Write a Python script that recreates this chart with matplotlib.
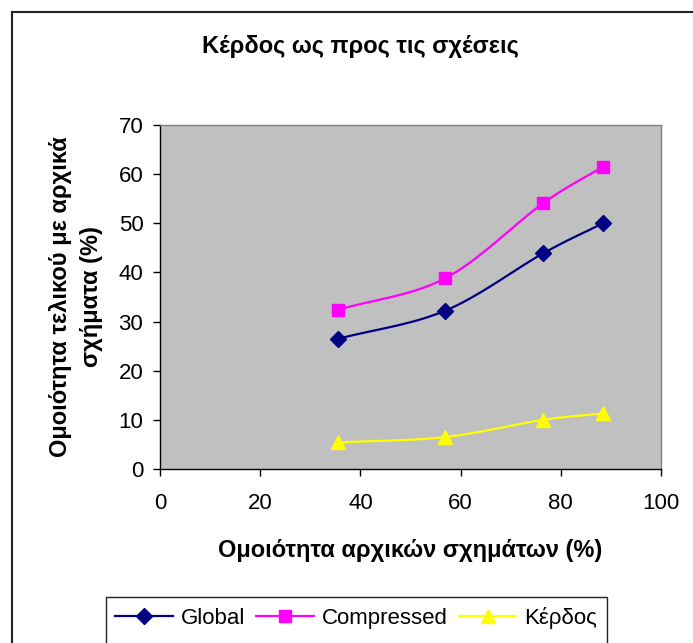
import matplotlib
matplotlib.use("Agg")
import matplotlib.pyplot as plt
from matplotlib.patches import Rectangle
import numpy as np

plt.rcParams['font.family'] = ['Liberation Sans', 'DejaVu Sans']

# similarity of initial schemas (%)
similarity = [35.6, 56.9, 76.5, 88.4]
global_vals = [26.5, 32.2, 43.9, 50.0]
compressed_vals = [32.4, 38.8, 54.1, 61.5]
kerdos_vals = [5.4, 6.5, 10.0, 11.3]

series_names = ['Global', 'Compressed', 'Κέρδος']
series_colors = ['#000080', '#FF00FF', '#FFFF00']
series_markers = ['D', 's', '^']
marker_sizes = [8, 9, 10]

title = 'Κέρδος ως προς τις σχέσεις'
xlabel = 'Ομοιότητα αρχικών σχημάτων (%)'
ylabel = 'Ομοιότητα τελικού με αρχικά\nσχήματα (%)'


def smooth(x, y, n=30):
    # Catmull-Rom curve through the points, like the spreadsheet "smoothed line"
    p = np.column_stack([x, y]).astype(float)
    p = np.vstack([2 * p[0] - p[1], p, 2 * p[-1] - p[-2]])
    out = []
    for i in range(1, len(p) - 2):
        p0, p1, p2, p3 = p[i - 1], p[i], p[i + 1], p[i + 2]
        t = np.linspace(0, 1, n)[:, None]
        seg = 0.5 * ((2 * p1) + (-p0 + p2) * t
                     + (2 * p0 - 5 * p1 + 4 * p2 - p3) * t ** 2
                     + (-p0 + 3 * p1 - 3 * p2 + p3) * t ** 3)
        out.append(seg)
    out = np.vstack(out)
    return out[:, 0], out[:, 1]


fig = plt.figure(figsize=(6.93, 6.43), dpi=100)

# outer chart border
fig.patches.append(Rectangle((12 / 693, -0.1), 1.2, 0.1 + (643 - 12) / 643,
                             transform=fig.transFigure, fill=False,
                             edgecolor='#222222', linewidth=1.5))

ax = fig.add_axes([160 / 693, (643 - 469) / 643, 501 / 693, 344 / 643])
ax.set_facecolor('#C0C0C0')

handles = []
for vals, name, col, mk, ms in zip([global_vals, compressed_vals, kerdos_vals],
                                   series_names, series_colors, series_markers, marker_sizes):
    sx, sy = smooth(similarity, vals)
    ax.plot(sx, sy, color=col, linewidth=1.6, zorder=2)
    ax.plot(similarity, vals, linestyle='none', marker=mk, markersize=ms,
            color=col, markeredgecolor=col, zorder=3)
    h, = ax.plot([], [], color=col, linewidth=1.6, marker=mk, markersize=ms,
                 markeredgecolor=col, label=name)
    handles.append(h)

ax.set_xlim(0, 100)
ax.set_ylim(0, 70)
ax.set_xticks(np.arange(0, 101, 20))
ax.set_yticks(np.arange(0, 71, 10))
ax.tick_params(direction='out', length=5, width=1, labelsize=16, colors='black')
ax.tick_params(axis='x', pad=12)
ax.tick_params(axis='y', pad=7)
for side in ['left', 'bottom']:
    ax.spines[side].set_linewidth(1)
    ax.spines[side].set_color('black')
for side in ['top', 'right']:
    ax.spines[side].set_linewidth(1)
    ax.spines[side].set_color('#808080')

ax.set_xlabel(xlabel, fontsize=17, fontweight='bold', labelpad=18)
ax.set_ylabel(ylabel, fontsize=17, fontweight='bold', labelpad=11, linespacing=1.45)

fig.text(360 / 693, 1 - 47 / 643, title, ha='center', va='center',
         fontsize=17, fontweight='bold')

# legend box
fig.patches.append(Rectangle((106 / 693, -0.1), (607 - 106) / 693, 0.1 + (643 - 597) / 643,
                             transform=fig.transFigure, fill=False,
                             edgecolor='#222222', linewidth=1))
fig.legend(handles=handles, loc='center', bbox_to_anchor=(356 / 693, 1 - 618 / 643),
           ncol=3, frameon=False, fontsize=16, handlelength=2.6,
           handletextpad=0.35, columnspacing=0.5, borderpad=0)

fig.savefig('out.png', dpi=100)
